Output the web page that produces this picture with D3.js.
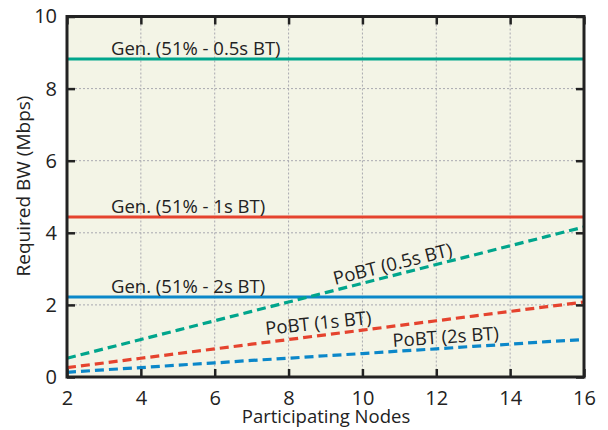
<!DOCTYPE html>
<html>
<head>
<meta charset="utf-8">
<script src="https://cdn.jsdelivr.net/npm/d3@7"></script>
<style>
  body { margin: 0; background: #fff; }
  svg { display: block; }
</style>
</head>
<body>
<svg id="chart" width="608" height="430"></svg>
<script>
// Node counts on the x axis
const nodes = [2, 3, 4, 5, 6, 7, 8, 9, 10, 11, 12, 13, 14, 15, 16];

// Generation bandwidth for a 51% share (constant in node count)
const gen05 = [8.82, 8.82, 8.82, 8.82, 8.82, 8.82, 8.82, 8.82, 8.82, 8.82, 8.82, 8.82, 8.82, 8.82, 8.82];
const gen1  = [4.44, 4.44, 4.44, 4.44, 4.44, 4.44, 4.44, 4.44, 4.44, 4.44, 4.44, 4.44, 4.44, 4.44, 4.44];
const gen2  = [2.22, 2.22, 2.22, 2.22, 2.22, 2.22, 2.22, 2.22, 2.22, 2.22, 2.22, 2.22, 2.22, 2.22, 2.22];

// PoBT bandwidth, grows with the number of participating nodes
const pobt05 = [0.52, 0.78, 1.04, 1.30, 1.56, 1.82, 2.08, 2.34, 2.60, 2.86, 3.12, 3.38, 3.64, 3.90, 4.16];
const pobt1  = [0.26, 0.39, 0.52, 0.65, 0.78, 0.91, 1.04, 1.17, 1.30, 1.43, 1.56, 1.69, 1.82, 1.95, 2.08];
const pobt2  = [0.13, 0.20, 0.26, 0.33, 0.39, 0.46, 0.52, 0.59, 0.65, 0.72, 0.78, 0.85, 0.91, 0.98, 1.04];

const xTicks = [2, 4, 6, 8, 10, 12, 14, 16];
const yTicks = [0, 2, 4, 6, 8, 10];

const TEAL = "#00a58c", RED = "#e5432e", BLUE = "#0b87c9";

const series = [
  { values: gen05,  color: TEAL, dashed: false },
  { values: gen1,   color: RED,  dashed: false },
  { values: gen2,   color: BLUE, dashed: false },
  { values: pobt2,  color: BLUE, dashed: true },
  { values: pobt1,  color: RED,  dashed: true },
  { values: pobt05, color: TEAL, dashed: true }
];

const svg = d3.select("#chart");
const L = 67, R = 584, T = 16.5, B = 377;
const x = d3.scaleLinear().domain([2, 16]).range([L, R]);
const y = d3.scaleLinear().domain([0, 10]).range([B, T]);

const labelFont = "'Open Sans', 'Noto Sans', sans-serif";

// plot background
svg.append("rect").attr("x", L).attr("y", T).attr("width", R - L).attr("height", B - T)
  .attr("fill", "#f3f4e6");

// dotted grid
const grid = svg.append("g").attr("stroke", "#a9a9b0").attr("stroke-width", 1)
  .attr("stroke-dasharray", "2,2");
xTicks.slice(1, -1).forEach(t => grid.append("line")
  .attr("x1", x(t)).attr("x2", x(t)).attr("y1", T).attr("y2", B));
yTicks.slice(1, -1).forEach(t => grid.append("line")
  .attr("x1", L).attr("x2", R).attr("y1", y(t)).attr("y2", y(t)));

// data lines
const line = d3.line().x((d, i) => x(nodes[i])).y(d => y(d));
series.forEach(s => {
  svg.append("path").datum(s.values)
    .attr("d", line)
    .attr("fill", "none")
    .attr("stroke", s.color)
    .attr("stroke-width", s.dashed ? 3.2 : 3)
    .attr("stroke-dasharray", s.dashed ? "9,5" : null);
});

// axes with inward ticks
const tickLen = 8;
const axisBottomG = svg.append("g").attr("transform", `translate(0,${B})`)
  .call(d3.axisBottom(x).tickValues(xTicks).tickSize(-tickLen).tickPadding(21).tickFormat(d3.format("d")));
const axisTopG = svg.append("g").attr("transform", `translate(0,${T})`)
  .call(d3.axisTop(x).tickValues(xTicks).tickSize(-tickLen).tickFormat(""));
const axisLeftG = svg.append("g").attr("transform", `translate(${L},0)`)
  .call(d3.axisLeft(y).tickValues(yTicks).tickSize(-tickLen).tickPadding(10).tickFormat(d3.format("d")));
const axisRightG = svg.append("g").attr("transform", `translate(${R},0)`)
  .call(d3.axisRight(y).tickValues(yTicks).tickSize(-tickLen).tickFormat(""));
[axisBottomG, axisTopG, axisLeftG, axisRightG].forEach(g => {
  g.select(".domain").remove();
  g.selectAll(".tick line").attr("stroke", "#222").attr("stroke-width", 2.5);
  g.selectAll("text").attr("fill", "#222").style("font-family", labelFont).style("font-size", "20px");
});
axisBottomG.selectAll("text").attr("dy", "0.35em");

// frame
svg.append("rect").attr("x", L).attr("y", T).attr("width", R - L).attr("height", B - T)
  .attr("fill", "none").attr("stroke", "#222").attr("stroke-width", 3);

// axis titles
svg.append("text").attr("x", 326).attr("y", 423)
  .attr("text-anchor", "middle").attr("fill", "#222")
  .style("font-family", labelFont).style("font-size", "18.5px")
  .text("Participating Nodes");
svg.append("text").attr("transform", "translate(30,186) rotate(-90)")
  .attr("text-anchor", "middle").attr("fill", "#222")
  .style("font-family", labelFont).style("font-size", "19px")
  .text("Required BW (Mbps)");

// series labels
const labels = [
  { text: "Gen. (51% - 0.5s BT)", px: 111, py: y(gen05[0]) - 4, rot: 0 },
  { text: "Gen. (51% - 1s BT)",   px: 111, py: y(gen1[0]) - 4,  rot: 0 },
  { text: "Gen. (51% - 2s BT)",   px: 111, py: y(gen2[0]) - 4,  rot: 0 },
  { text: "PoBT (0.5s BT)",       px: 335, py: 285, rot: -14 },
  { text: "PoBT (1s BT)",         px: 266, py: 335, rot: -6 },
  { text: "PoBT (2s BT)",         px: 393, py: 347, rot: -4 }
];
labels.forEach(l => {
  svg.append("text")
    .attr("transform", `translate(${l.px},${l.py}) rotate(${l.rot})`)
    .attr("fill", "#222")
    .style("font-family", labelFont).style("font-size", "18.5px")
    .text(l.text);
});
</script>
</body>
</html>
